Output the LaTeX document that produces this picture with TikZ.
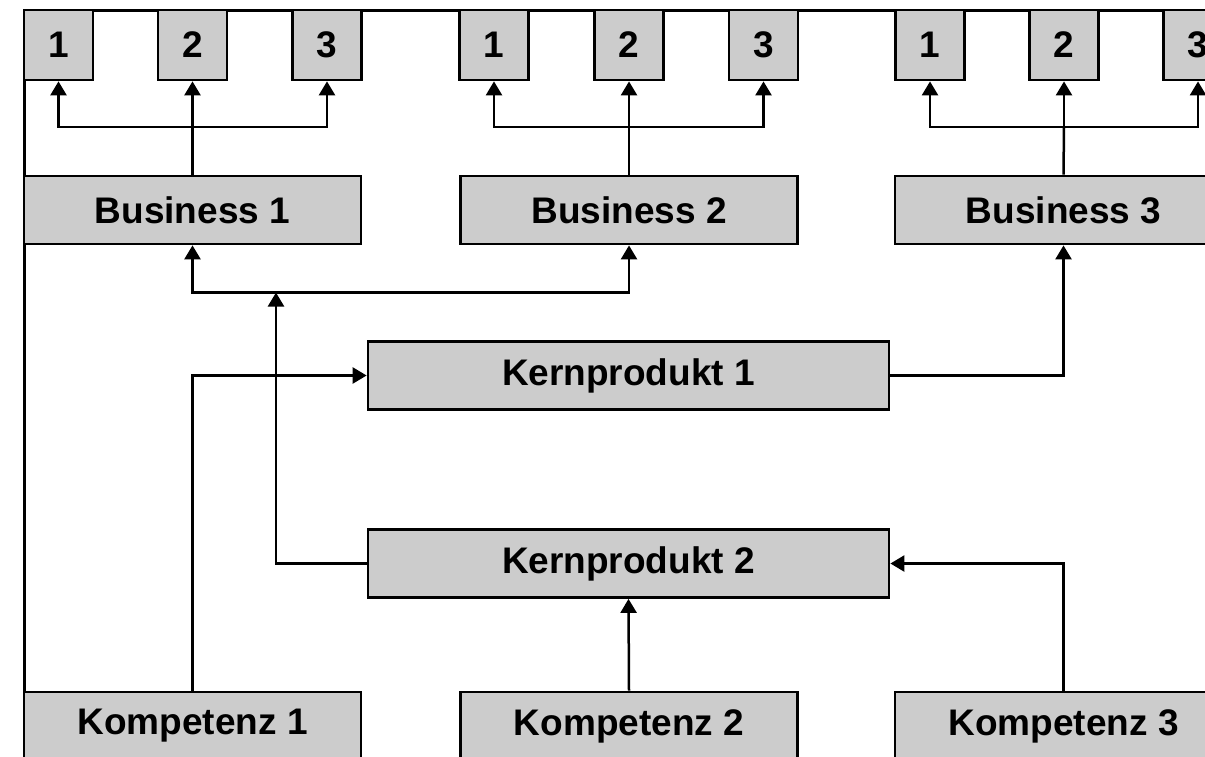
\documentclass[tikz,border=0pt]{standalone}
\usepackage{fontspec}
\setmainfont{Liberation Sans}
\usetikzlibrary{arrows.meta}
\definecolor{boxgray}{RGB}{204,204,204}
\begin{document}
\begin{tikzpicture}[x=1pt,y=-1pt,
  box/.style={draw=black,line width=2.8pt,fill=boxgray,rectangle,inner sep=0pt,
    font=\fontsize{37}{44}\selectfont\bfseries},
  small/.style={box,minimum width=69pt,minimum height=70pt},
  wide/.style={box,minimum width=337pt,minimum height=68pt},
  kern/.style={box,minimum width=521pt,minimum height=68pt},
  conn/.style={line width=2.5pt},
  arr/.style={conn,-{Triangle[length=14pt,width=16pt]}}]
\clip (0,0) rectangle (1205,757);
\fill[white] (0,0) rectangle (1205,757);
% frame
\draw[conn,line width=2.6pt] (24.5,10.5) -- (1205,10.5);
\draw[conn,line width=2.6pt] (24.5,10.5) -- (24.5,757);
% small boxes
\node[small] (s11) at (58.5,45) {1};
\node[small] (s12) at (192.5,45) {2};
\node[small] (s13) at (327,45) {3};
\node[small] (s21) at (494,45) {1};
\node[small] (s22) at (629,45) {2};
\node[small] (s23) at (763.5,45) {3};
\node[small] (s31) at (930,45) {1};
\node[small] (s32) at (1064,45) {2};
\node[small] (s33) at (1198,45) {3};
% business
\node[wide] (b1) at (192.5,210) {Business 1};
\node[wide] (b2) at (629,210) {Business 2};
\node[wide] (b3) at (1063.5,210) {Business 3};
% kern
\node[kern] (k1) at (628.5,375.5) {Kernprodukt 1};
\node[kern] (k2) at (628.5,563.5) {Kernprodukt 2};
% kompetenz
\node[wide] (c1) at (192.5,726) {Kompetenz 1};
\node[wide] (c2) at (629,726) {Kompetenz 2};
\node[wide] (c3) at (1063.5,726) {Kompetenz 3};
% junctions
\coordinate (j1) at (192.5,127);
\coordinate (j2) at (629,127);
\coordinate (j3) at (1064,127);
\coordinate (jb) at (276,292.5);
% business to products
\draw[conn] (b1.north) -- (j1);
\draw[arr] (j1) -- (s12.south);
\draw[arr] (j1) -| (s11.south);
\draw[arr] (j1) -| (s13.south);
\draw[conn] (b2.north) -- (j2);
\draw[arr] (j2) -- (s22.south);
\draw[arr] (j2) -| (s21.south);
\draw[arr] (j2) -| (s23.south);
\draw[conn] (b3.north) -- (j3);
\draw[arr] (j3) -- (s32.south);
\draw[arr] (j3) -| (s31.south);
\draw[arr] (j3) -| (s33.south);
% kern 2 to business 1 and 2
\draw[arr] (jb) -| (b1.south);
\draw[arr] (jb) -| (b2.south);
\draw[arr] (k2.west) -| (jb);
% kompetenz to kern
\draw[arr] (c1.north) |- (k1.west);
\draw[arr] (k1.east) -| (b3.south);
\draw[arr] (c2.north) -- (k2.south);
\draw[arr] (c3.north) |- (k2.east);
\end{tikzpicture}
\end{document}
